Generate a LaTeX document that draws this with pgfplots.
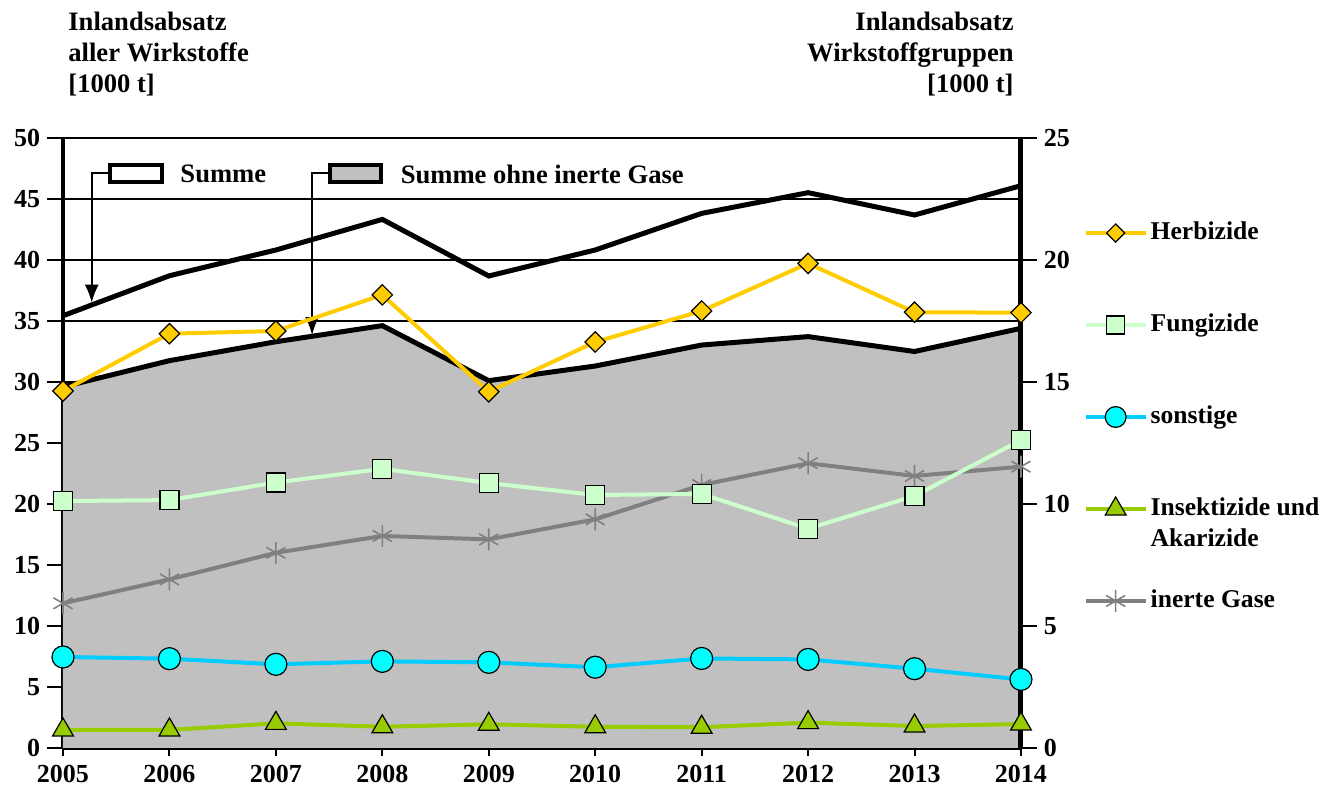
\documentclass[border=0pt]{standalone}
\usepackage{fontspec}
\setmainfont{Liberation Serif}
\usepackage{pgfplots}
\pgfplotsset{compat=1.18}
\usetikzlibrary{arrows.meta}
\definecolor{herb}{HTML}{FFCC00}
\definecolor{fung}{HTML}{CCFFCC}
\definecolor{sonstl}{HTML}{00CCFF}
\definecolor{sonstf}{HTML}{00FFFF}
\definecolor{insekt}{HTML}{99CC00}
\definecolor{inert}{HTML}{808080}
\definecolor{areagray}{HTML}{C0C0C0}

\pgfplotstableread{
year summe ohne
2005 35.43 29.60
2006 38.71 31.75
2007 40.82 33.30
2008 43.33 34.62
2009 38.69 30.11
2010 40.82 31.31
2011 43.82 33.03
2012 45.52 33.72
2013 43.69 32.50
2014 46.09 34.40
}\tablesum

\pgfplotstableread{
year herb fung sonst insekt inert
2005 14.63 10.12 3.73 0.74 5.93
2006 16.98 10.16 3.66 0.74 6.91
2007 17.09 10.88 3.43 1.01 8.00
2008 18.57 11.44 3.55 0.87 8.69
2009 14.60 10.86 3.51 0.97 8.55
2010 16.64 10.37 3.31 0.87 9.37
2011 17.91 10.41 3.67 0.85 10.78
2012 19.86 8.99 3.63 1.04 11.67
2013 17.86 10.33 3.25 0.90 11.15
2014 17.84 12.62 2.81 0.98 11.53
}\tablegroups

\begin{document}
\begin{tikzpicture}[font=\fontsize{13.3}{15.5}\selectfont\bfseries]
\pgfplotsset{
  base/.style={
    at={(0,0)}, anchor=south west, scale only axis,
    width=479pt, height=305pt,
    xmin=2005, xmax=2014, clip=false,
    /pgf/number format/assume math mode=true,
    /pgf/number format/1000 sep={},
    ticklabel style={font=\fontsize{13}{15}\selectfont\bfseries},
    tick style={black, line width=1pt},
    major tick length=8pt,
    tick align=outside,
    axis line style={-},
  }
}
\path[use as bounding box] (-31.5pt,-21.5pt) rectangle (629.5pt,374pt);

\begin{axis}[base,
  ymin=0, ymax=50, ytick={0,5,...,50},
  xtick={2005,2006,...,2014},
  axis x line*=bottom, axis y line*=left,
  x axis line style={line width=2pt},
  y axis line style={line width=2pt},
  ymajorgrids, major grid style={black, line width=1pt},
  xticklabel style={yshift=3pt},
  xtick style={line width=1pt},
  x tick style={/pgfplots/major tick length=4pt},
]
\addplot[fill=areagray, draw=none, forget plot] table[x=year,y=ohne]{\tablesum} \closedcycle;
\addplot[black, line width=2.5pt, forget plot] table[x=year,y=ohne]{\tablesum};
\addplot[black, line width=2.5pt, forget plot] table[x=year,y=summe]{\tablesum};

% annotations
\draw[black, line width=2pt, fill=white] (axis cs:2005.44,46.39) rectangle (axis cs:2005.93,47.79);
\draw[black, line width=1pt, -{Latex[length=9pt,width=7pt]}] (axis cs:2005.44,47.1) -| (axis cs:2005.27,36.5);
\node[anchor=west, inner sep=0pt] at (axis cs:2006.10,47.05) {Summe};
\draw[black, line width=2pt, fill=areagray] (axis cs:2007.51,46.39) rectangle (axis cs:2007.99,47.79);
\draw[black, line width=1pt, -{Latex[length=9pt,width=7pt]}] (axis cs:2007.51,47.1) -| (axis cs:2007.34,33.85);
\node[anchor=west, inner sep=0pt] at (axis cs:2008.17,47.05) {Summe ohne inerte Gase};
\end{axis}

\begin{axis}[base,
  ymin=0, ymax=25, ytick={0,5,...,25},
  axis y line*=right, axis x line=none,
  y axis line style={line width=2.5pt},
  legend style={at={(1.0650,0.870)}, anchor=north west, draw=none, fill=none,
    inner sep=0pt, row sep=0pt, column sep=1.5pt,
    font=\fontsize{12.8}{15}\selectfont\bfseries,
    nodes={inner sep=0pt, text height=11pt, text depth=4.33pt}},
  legend cell align=left,
  legend image code/.code={\draw[mark repeat=2,mark phase=2] plot coordinates {(0pt,0pt)(15pt,0pt)(30pt,0pt)};},
]
\addplot[inert, line width=2pt, mark=asterisk, mark size=5.5pt, mark options={line width=0.8pt, inert}, forget plot] table[x=year,y=inert]{\tablegroups};
\addplot[fung, line width=2pt, mark=square*, mark size=4.75pt, mark options={fill=fung, draw=black, line width=0.6pt}, forget plot] table[x=year,y=fung]{\tablegroups};
\addplot[sonstl, line width=2pt, mark=*, mark size=5.5pt, mark options={fill=sonstf, draw=black, line width=0.6pt}, forget plot] table[x=year,y=sonst]{\tablegroups};
\addplot[insekt, line width=2pt, mark=triangle*, mark size=6pt, mark options={fill=insekt, draw=black, line width=0.6pt}, forget plot] table[x=year,y=insekt]{\tablegroups};
\addplot[herb, line width=2pt, mark=square*, mark size=3.6pt, mark options={fill=herb, draw=black, line width=0.6pt, rotate=45}, forget plot] table[x=year,y=herb]{\tablegroups};

\addlegendimage{herb, line width=2pt, mark=square*, mark size=3.2pt, mark options={fill=herb, draw=black, line width=0.6pt, rotate=45}}
\addlegendentry{Herbizide}
\addlegendimage{empty legend}\addlegendentry{}
\addlegendimage{empty legend}\addlegendentry{}
\addlegendimage{fung, line width=2pt, mark=square*, mark size=4.5pt, mark options={fill=fung, draw=black, line width=0.6pt}}
\addlegendentry{Fungizide}
\addlegendimage{empty legend}\addlegendentry{}
\addlegendimage{empty legend}\addlegendentry{}
\addlegendimage{sonstl, line width=2pt, mark=*, mark size=5.2pt, mark options={fill=sonstf, draw=black, line width=0.6pt}}
\addlegendentry{sonstige}
\addlegendimage{empty legend}\addlegendentry{}
\addlegendimage{empty legend}\addlegendentry{}
\addlegendimage{insekt, line width=2pt, mark=triangle*, mark size=6pt, mark options={fill=insekt, draw=black, line width=0.6pt}}
\addlegendentry{Insektizide und}
\addlegendimage{empty legend}\addlegendentry{Akarizide}
\addlegendimage{empty legend}\addlegendentry{}
\addlegendimage{inert, line width=2pt, mark=asterisk, mark size=5.5pt, mark options={line width=0.8pt, inert}}
\addlegendentry{inerte Gase}
\end{axis}

\node[anchor=north west, align=left, inner sep=0pt] at (2.5pt,368pt) {Inlandsabsatz\\aller Wirkstoffe\\{[1000 t]}};
\node[anchor=north east, align=right, inner sep=0pt] at (475.5pt,368pt) {Inlandsabsatz\\Wirkstoffgruppen\\{[1000 t]}};
\end{tikzpicture}
\end{document}
